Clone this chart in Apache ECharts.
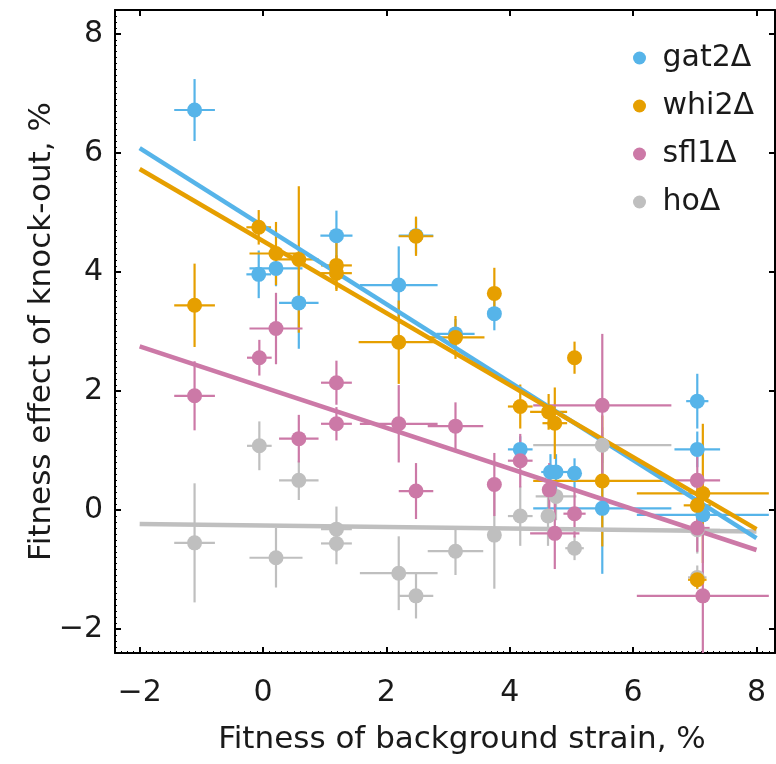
<!DOCTYPE html>
<html>
<head>
<meta charset="utf-8">
<script src="https://cdn.jsdelivr.net/npm/echarts@6/dist/echarts.min.js"></script>
<style>
html,body{margin:0;padding:0;background:#fff;}
#chart{width:776px;height:764px;}
</style>
</head>
<body>
<div id="chart"></div>
<script>
// Tick labels
const xTicks = [-2, 0, 2, 4, 6, 8];
const yTicks = [-2, 0, 2, 4, 6, 8];
const seriesNames = ['gat2Δ', 'whi2Δ', 'sfl1Δ', 'hoΔ'];

// rows: [x, y, xErr, yErr]
const gat2 = [
  [-1.11, 6.72, 0.33, 0.52], [-0.07, 3.96, 0.20, 0.40], [0.21, 4.06, 0.43, 0.30],
  [0.58, 3.48, 0.32, 0.77], [1.19, 4.61, 0.26, 0.42], [2.20, 3.78, 0.63, 0.65],
  [2.48, 4.61, 0.28, 0.30], [3.12, 2.96, 0.31, 0.25], [3.75, 3.30, 0.00, 0.28],
  [4.17, 1.02, 0.20, 0.22], [4.66, 0.64, 0.15, 0.30], [4.75, 0.64, 0.20, 0.30],
  [5.05, 0.62, 0.10, 0.25], [5.50, 0.03, 1.12, 1.10], [7.04, 1.83, 0.18, 0.46],
  [7.04, 1.02, 0.37, 0.30], [7.13, -0.08, 1.07, 0.30]
];
const whi2 = [
  [-1.11, 3.44, 0.33, 0.70], [-0.07, 4.75, 0.20, 0.29], [0.21, 4.31, 0.43, 0.53],
  [0.58, 4.21, 0.32, 1.23], [1.19, 4.11, 0.25, 0.40], [1.19, 3.98, 0.25, 0.30],
  [2.20, 2.82, 0.65, 0.70], [2.48, 4.60, 0.28, 0.33], [3.12, 2.90, 0.47, 0.36],
  [3.75, 3.64, 0.00, 0.43], [4.17, 1.74, 0.20, 0.37], [4.63, 1.65, 0.30, 0.30],
  [4.73, 1.46, 0.20, 0.60], [5.05, 2.56, 0.10, 0.27], [5.50, 0.49, 1.12, 1.10],
  [7.04, 0.08, 0.22, 0.30], [7.13, 0.28, 1.07, 1.17], [7.04, -1.17, 0.15, 0.15]
];
const sfl1 = [
  [-1.11, 1.92, 0.33, 0.58], [-0.06, 2.56, 0.20, 0.30], [0.21, 3.05, 0.43, 0.60],
  [0.58, 1.20, 0.32, 0.40], [1.19, 2.14, 0.25, 0.37], [1.19, 1.45, 0.25, 0.28],
  [2.20, 1.45, 0.63, 0.65], [2.48, 0.32, 0.28, 0.47], [3.12, 1.41, 0.45, 0.40],
  [3.75, 0.43, 0.00, 0.53], [4.17, 0.83, 0.20, 0.45], [4.64, 0.34, 0.10, 0.45],
  [4.73, -0.39, 0.40, 0.60], [5.05, -0.06, 0.18, 0.40], [5.50, 1.76, 1.12, 1.20],
  [7.04, 0.50, 0.37, 0.40], [7.04, -0.30, 0.20, 0.40], [7.13, -1.44, 1.07, 1.20]
];
const ho = [
  [-1.11, -0.55, 0.33, 1.00], [-0.06, 1.08, 0.20, 0.41], [0.21, -0.80, 0.43, 0.50],
  [0.58, 0.50, 0.32, 0.33], [1.19, -0.32, 0.25, 0.38], [1.19, -0.56, 0.25, 0.35],
  [2.20, -1.06, 0.63, 0.62], [2.48, -1.44, 0.28, 0.38], [3.12, -0.69, 0.45, 0.40],
  [3.75, -0.42, 0.00, 0.90], [4.17, -0.10, 0.20, 0.50], [4.62, -0.10, 0.10, 0.50],
  [4.75, 0.23, 0.33, 0.40], [5.05, -0.64, 0.15, 0.20], [5.50, 1.09, 1.12, 0.30],
  [7.04, -0.33, 0.37, 0.40], [7.04, -1.13, 0.15, 0.20]
];
// Fitted regression lines (end points)
const gat2Fit = [[-2, 6.08], [8, -0.47]];
const whi2Fit = [[-2, 5.73], [8, -0.32]];
const sfl1Fit = [[-2, 2.75], [8, -0.67]];
const hoFit = [[-2, -0.235], [8, -0.36]];

const colors = ['#56B4E9', '#E69F00', '#CC79A7', '#BFBFBF'];
const datasets = [gat2, whi2, sfl1, ho];
const fits = [gat2Fit, whi2Fit, sfl1Fit, hoFit];
const drawOrder = [3, 0, 1, 2];

const FONT = 'DejaVu Sans';
const TXT = '#1a1a1a';
const minus = v => String(v).replace('-', '\u2212');

const minorX = [], minorY = [];
for (let v = -24; v <= 83; v++) minorX.push(v / 10);
for (let v = -24; v <= 84; v++) minorY.push(v / 10);

function errRender(color) {
  return function (params, api) {
    const x = api.value(0), y = api.value(1), xe = api.value(2), ye = api.value(3);
    const h0 = api.coord([x - xe, y]), h1 = api.coord([x + xe, y]);
    const v0 = api.coord([x, y - ye]), v1 = api.coord([x, y + ye]);
    const st = { stroke: color, lineWidth: 2.2 };
    return {
      type: 'group',
      children: [
        { type: 'line', shape: { x1: h0[0], y1: h0[1], x2: h1[0], y2: h1[1] }, style: st },
        { type: 'line', shape: { x1: v0[0], y1: v0[1], x2: v1[0], y2: v1[1] }, style: st }
      ]
    };
  };
}

const series = [];
drawOrder.forEach(i => {
  series.push({
    name: seriesNames[i] + ' err', type: 'custom', renderItem: errRender(colors[i]),
    data: datasets[i], encode: { x: 0, y: 1 }, clip: true, z: 1, silent: true
  });
});
drawOrder.forEach(i => {
  series.push({
    name: seriesNames[i] + ' fit', type: 'line', data: fits[i], showSymbol: false,
    lineStyle: { color: colors[i], width: 4.5 }, z: 2, silent: true
  });
});
[3, 0, 1, 2].forEach(i => {
  series.push({
    name: seriesNames[i], type: 'scatter', data: datasets[i].map(r => [r[0], r[1]]),
    symbol: 'circle', symbolSize: 15, itemStyle: { color: colors[i], opacity: 1 }, z: 3
  });
});

const chart = echarts.init(document.getElementById('chart'), null, { renderer: 'canvas' });
const axisLineStyle = { show: true, onZero: false, lineStyle: { color: '#000', width: 2 } };
const hiddenLine = { show: false, onZero: false };
chart.setOption({
  animation: false,
  backgroundColor: '#fff',
  grid: { left: 115, top: 10, right: 1, bottom: 111, containLabel: false },
  legend: {
    data: seriesNames, orient: 'vertical', left: 628, top: 36,
    icon: 'circle', itemWidth: 36, itemHeight: 13, itemGap: 14,
    textStyle: { fontFamily: FONT, fontSize: 30, lineHeight: 34, color: TXT }
  },
  xAxis: [
    {
      type: 'value', min: -2.4, max: 8.3, position: 'bottom',
      axisLine: axisLineStyle,
      axisTick: { show: true, inside: true, length: 6, lineStyle: { color: '#000', width: 2 }, customValues: xTicks },
      axisLabel: { show: true, customValues: xTicks, formatter: minus, margin: 25, fontFamily: FONT, fontSize: 30, color: TXT },
      splitLine: { show: false },
      name: 'Fitness of background strain, %', nameLocation: 'middle', nameGap: 71,
      nameTextStyle: { fontFamily: FONT, fontSize: 31, color: TXT, padding: [0, 0, 0, 34] }
    },
    {
      type: 'value', min: -2.4, max: 8.3, position: 'top',
      axisLine: axisLineStyle,
      axisTick: { show: true, inside: true, length: 6, lineStyle: { color: '#000', width: 2 }, customValues: xTicks },
      axisLabel: { show: false }, splitLine: { show: false }
    },
    {
      type: 'value', min: -2.4, max: 8.3, position: 'bottom',
      axisLine: hiddenLine,
      axisTick: { show: true, inside: true, length: 2, lineStyle: { color: '#000', width: 1 }, customValues: minorX },
      axisLabel: { show: false }, splitLine: { show: false }
    }
  ],
  yAxis: [
    {
      type: 'value', min: -2.4, max: 8.4, position: 'left',
      axisLine: axisLineStyle,
      axisTick: { show: true, inside: true, length: 6, lineStyle: { color: '#000', width: 2 }, customValues: yTicks },
      axisLabel: { show: true, customValues: yTicks, formatter: minus, margin: 12, fontFamily: FONT, fontSize: 30, color: TXT },
      splitLine: { show: false },
      name: 'Fitness effect of knock-out, %', nameLocation: 'middle', nameGap: 58, nameMoveOverlap: false,
      nameTextStyle: { fontFamily: FONT, fontSize: 31, color: TXT }
    },
    {
      type: 'value', min: -2.4, max: 8.4, position: 'right',
      axisLine: axisLineStyle,
      axisTick: { show: true, inside: true, length: 6, lineStyle: { color: '#000', width: 2 }, customValues: yTicks },
      axisLabel: { show: false }, splitLine: { show: false }
    },
    {
      type: 'value', min: -2.4, max: 8.4, position: 'left',
      axisLine: hiddenLine,
      axisTick: { show: true, inside: true, length: 2, lineStyle: { color: '#000', width: 1 }, customValues: minorY },
      axisLabel: { show: false }, splitLine: { show: false }
    }
  ],
  series: series
});
</script>
</body>
</html>
